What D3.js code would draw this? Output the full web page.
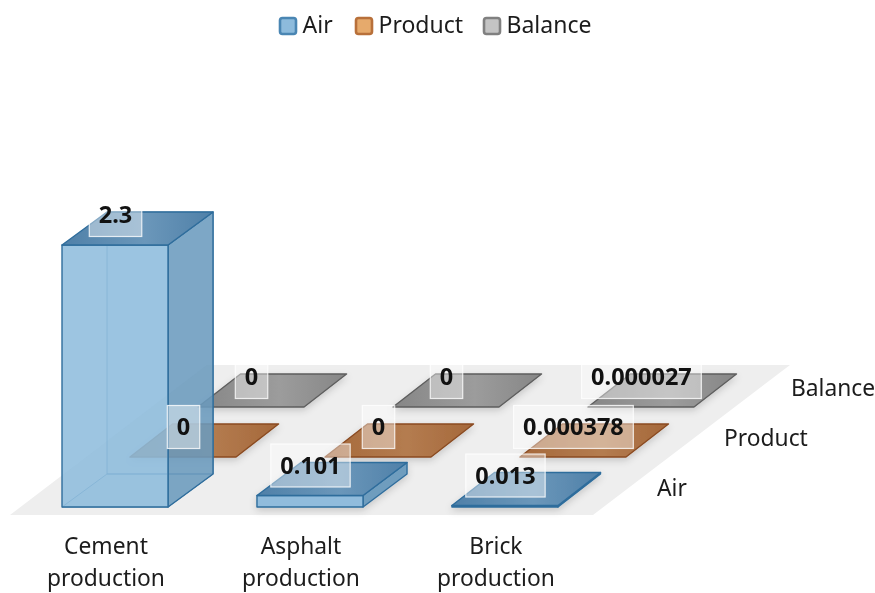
<!DOCTYPE html>
<html><head><meta charset="utf-8">
<script src="https://cdn.jsdelivr.net/npm/d3@7"></script>
<style>html,body{margin:0;padding:0;background:#fff}svg{display:block;filter:blur(.6px)}text{font-family:"Noto Sans",sans-serif;fill:#1c1c1c}</style>
</head><body><svg id="c" width="875" height="593"></svg>
<script>
const categories=[["Cement","production"],["Asphalt","production"],["Brick","production"]];
const seriesNames=["Air","Product","Balance"];
const air=[2.3,0.101,0.013];
const product=[0,0,0.000378];
const balance=[0,0,0.000027];
const labelText=[["2.3","0.101","0.013"],["0","0","0.000378"],["0","0","0.000027"]];
const seriesValues=[air,product,balance];
const palette={Air:{front:"#8dbbdc",side:"#6a9abd",top:"#4f80a8",topL:"#6b97ba",edge:"#2f6d9c",sw:"#8dbbdc",swE:"#4a86b3"},
 Product:{front:"#d69a63",side:"#b27a4a",top:"#a5683a",topL:"#b47c50",edge:"#8a4a20",sw:"#e6aa6c",swE:"#b8703a"},
 Balance:{front:"#b4b4b4",side:"#969696",top:"#868686",topL:"#9c9c9c",edge:"#5e5e5e",sw:"#c4c4c4",swE:"#808080"}};

const svg=d3.select("#c");
const defs=svg.append("defs");
seriesNames.forEach(n=>{
 const g=defs.append("linearGradient").attr("id","g"+n);
 [[0,palette[n].top],[.55,palette[n].topL],[1,palette[n].top]].forEach(([o,c])=>g.append("stop").attr("offset",o).attr("stop-color",c));
});
const sh=defs.append("filter").attr("id","sh").attr("x","-20%").attr("y","-30%").attr("width","140%").attr("height","170%");
sh.append("feDropShadow").attr("dx",0).attr("dy",3).attr("stdDeviation",3.5).attr("flood-color","#000").attr("flood-opacity",.16);

const x=d3.scaleBand().domain(d3.range(3)).range([62,558]).paddingInner(.456).paddingOuter(0);
const row=d3.scaleLinear().domain([0,1]).range([0,68]);
const rowY=d3.scaleLinear().domain([0,1]).range([507,457]);
const y=d3.scaleLinear().domain([0,2.3]).range([0,262]);
const depth=d3.scaleThreshold().domain([0.05,1]).range([42.5,44,45]);
const dy=-33,w=x.bandwidth();
const P=(c,s,along,deep,h)=>[x(c)+row(s)+along*w+deep*depth(seriesValues[s][c]),rowY(s)+deep*dy-y(h)];
const path=pts=>d3.line()(pts)+"Z";

// floor
const fy=d3.scaleLinear().domain([0,1]).range([515,365]);
svg.append("path").attr("fill","#eeeeee")
 .attr("d",path([[10,fy(0)],[593,fy(0)],[790,fy(1)],[207,fy(1)]]));

const gPlates=svg.append("g");
[2,1,0].forEach(s=>{
 const name=seriesNames[s],col=palette[name];
 seriesValues[s].forEach((v,c)=>{
  const g=gPlates.append("g").attr("stroke",col.edge).attr("stroke-width",1.4).attr("stroke-linejoin","round");
  const isBox=v>0.001, tall=y(v)>50;
  if(!tall) g.attr("filter","url(#sh)");
  if(isBox){
   const op=tall?.86:.95;
   if(tall){
   g.append("path").attr("fill",col.front).attr("fill-opacity",.16).attr("stroke-opacity",.7).attr("stroke-width",1)
    .attr("d",path([P(c,s,0,1,0),P(c,s,1,1,0),P(c,s,1,1,v),P(c,s,0,1,v)]));
   g.append("path").attr("fill",col.front).attr("fill-opacity",.16).attr("stroke-opacity",.7).attr("stroke-width",1)
    .attr("d",path([P(c,s,0,0,0),P(c,s,1,0,0),P(c,s,1,1,0),P(c,s,0,1,0)]));
   }
   g.append("path").attr("fill",col.side).attr("fill-opacity",op).attr("d",path([P(c,s,1,0,0),P(c,s,1,1,0),P(c,s,1,1,v),P(c,s,1,0,v)]));
   g.append("path").attr("fill",col.front).attr("fill-opacity",op).attr("d",path([P(c,s,0,0,0),P(c,s,1,0,0),P(c,s,1,0,v),P(c,s,0,0,v)]));
  }
  g.append("path").attr("fill",`url(#g${name})`).attr("d",path([P(c,s,0,0,v),P(c,s,1,0,v),P(c,s,1,1,v),P(c,s,0,1,v)]));
 });
});

// value labels
const gLab=svg.append("g");
[0,2,1].forEach(s=>{
 seriesValues[s].forEach((v,c)=>{
  const cx=x(c)+row(s)+w/2+.5, cy=rowY(s)-y(v)-30;
  const g=gLab.append("g");
  const r=g.append("rect").attr("fill","#fff").attr("fill-opacity",.42).attr("stroke","#fff").attr("stroke-opacity",.8).attr("stroke-width",1.2);
  const t=g.append("text").attr("x",cx).attr("y",cy).attr("dy",".36em").attr("text-anchor","middle")
    .attr("font-weight",700).attr("font-size",23.5).style("fill","#111").text(labelText[s][c]);
  const tw=t.node().getComputedTextLength()+19;
  r.attr("x",cx-tw/2).attr("y",cy-21.5).attr("width",tw).attr("height",43);
 });
});

// category labels
categories.forEach((lines,c)=>{
 lines.forEach((l,i)=>svg.append("text").attr("x",x(c)+44).attr("y",546+i*31.5).attr("dy",".36em")
  .attr("text-anchor","middle").attr("font-size",22.8).text(l));
});
// series labels
const seriesLabelX=d3.scaleLinear().domain([0,1]).range([657,724]);
const seriesLabelY=d3.scaleLinear().domain([0,1]).range([488,438]);
seriesNames.forEach((n,s)=>svg.append("text").attr("x",seriesLabelX(s)).attr("y",seriesLabelY(s)).attr("dy",".36em").attr("font-size",22.8).text(n));
// legend
const legendX=[279,355,483];
seriesNames.forEach((n,s)=>{
 const col=palette[n];
 svg.append("rect").attr("x",legendX[s]+1).attr("y",18).attr("width",16).attr("height",16).attr("rx",2.5)
  .attr("fill",col.sw).attr("stroke",col.swE).attr("stroke-width",2.6);
 svg.append("text").attr("x",legendX[s]+23.5).attr("y",25).attr("dy",".36em").attr("font-size",23).text(n);
});
</script></body></html>
